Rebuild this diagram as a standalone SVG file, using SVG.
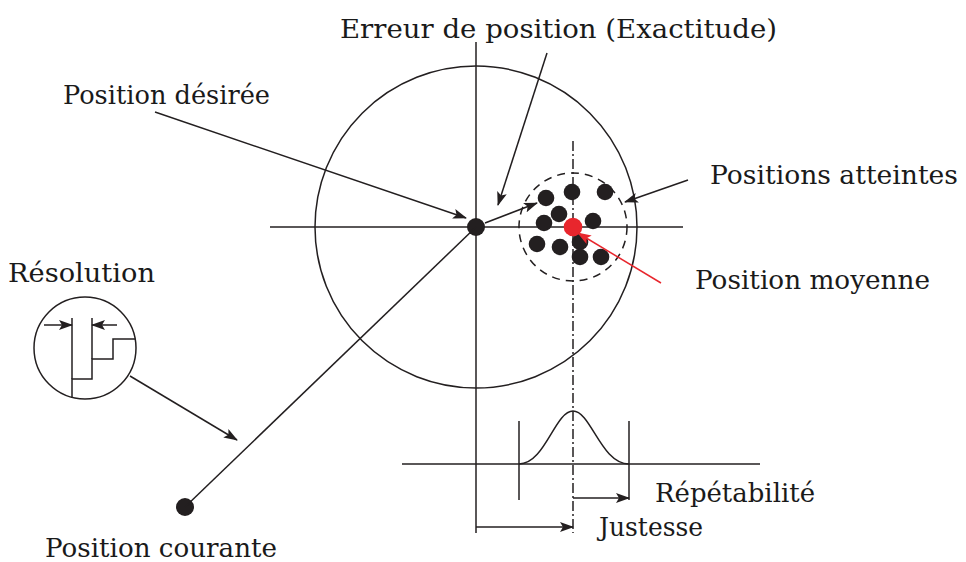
<svg xmlns="http://www.w3.org/2000/svg" width="966" height="562" viewBox="0 0 966 562">
<style>
.ln{stroke:#231f20;stroke-width:1.5;fill:none}
.dot{fill:#231f20}
.red{fill:#e8262d}
.t{font-family:"DejaVu Serif","Liberation Serif",serif;font-size:26px;fill:#1a1a1a}
</style>
<defs>
<marker id="ah" markerUnits="userSpaceOnUse" markerWidth="14" markerHeight="10" refX="13" refY="5" orient="auto">
<path d="M0,0 L14,5 L0,10 L3,5 Z" fill="#231f20"/>
</marker>
<marker id="ahr" markerUnits="userSpaceOnUse" markerWidth="14" markerHeight="10" refX="13" refY="5" orient="auto">
<path d="M0,0 L14,5 L0,10 L3,5 Z" fill="#e8262d"/>
</marker>
</defs>
<rect width="966" height="562" fill="#fff"/>

<g id="main-circle">
<circle class="ln" cx="476" cy="227" r="161"/>
<line class="ln" x1="476" y1="42" x2="476" y2="533"/>
<line class="ln" x1="270" y1="227" x2="683" y2="227"/>
</g>

<g id="cluster">
<circle class="ln" cx="573" cy="227" r="54" stroke-dasharray="8 6"/>
<line class="ln" x1="573" y1="141" x2="573" y2="533" stroke-dasharray="10 3 2 3" stroke-width="1.3"/>
<circle class="dot" cx="546" cy="198" r="8.3"/>
<circle class="dot" cx="572" cy="192" r="8.3"/>
<circle class="dot" cx="605" cy="192" r="8.3"/>
<circle class="dot" cx="559" cy="214" r="8.3"/>
<circle class="dot" cx="544" cy="223" r="8.3"/>
<circle class="dot" cx="593" cy="221" r="8.3"/>
<circle class="dot" cx="537" cy="244" r="8.3"/>
<circle class="dot" cx="560" cy="247" r="8.3"/>
<circle class="dot" cx="580" cy="242" r="8.3"/>
<circle class="dot" cx="580" cy="257" r="8.3"/>
<circle class="dot" cx="601" cy="257" r="8.3"/>
</g>

<g id="position-desiree-dot">
<circle class="dot" cx="476" cy="227" r="9"/>
</g>
<g id="position-moyenne-dot">
<circle class="red" cx="573" cy="227" r="9.3"/>
</g>
<g id="position-courante-dot">
<circle class="dot" cx="185" cy="507" r="9"/>
</g>

<g id="resolution">
<circle class="ln" cx="85" cy="348" r="51"/>
<line class="ln" x1="44" y1="325" x2="72" y2="325" marker-end="url(#ah)"/>
<line class="ln" x1="117" y1="325" x2="92" y2="325" marker-end="url(#ah)"/>
<line class="ln" x1="72" y1="318" x2="72" y2="379"/>
<line class="ln" x1="92" y1="318" x2="92" y2="359"/>
<polyline class="ln" points="72,398 72,379 92,379 92,359 113,359 113,339 135,339"/>
</g>

<g id="distribution">
<line class="ln" x1="402" y1="464" x2="760" y2="464"/>
<line class="ln" x1="519" y1="421" x2="519" y2="500"/>
<line class="ln" x1="629" y1="421" x2="629" y2="500"/>
<path class="ln" d="M519,464 C545,464 555,411 573,411 C591,411 601,464 629,464"/>
</g>

<g id="connectors">
<line class="ln" x1="155" y1="112" x2="466" y2="218" marker-end="url(#ah)"/>
<line class="ln" x1="547" y1="53" x2="498" y2="205" marker-end="url(#ah)"/>
<line class="ln" x1="485" y1="223" x2="537" y2="203" marker-end="url(#ah)"/>
<line class="ln" x1="688" y1="180" x2="625" y2="202" marker-end="url(#ah)"/>
<line x1="661" y1="283" x2="578" y2="233" stroke="#e8262d" stroke-width="1.5" marker-end="url(#ahr)"/>
<line class="ln" x1="476" y1="227" x2="185" y2="507"/>
<line class="ln" x1="130" y1="376" x2="237" y2="440" marker-end="url(#ah)"/>
<line class="ln" x1="573" y1="498" x2="629" y2="498" marker-end="url(#ah)"/>
<line class="ln" x1="476" y1="527" x2="573" y2="527" marker-end="url(#ah)"/>
</g>

<g id="labels">
<text class="t" x="340" y="38" textLength="437" lengthAdjust="spacingAndGlyphs">Erreur de position (Exactitude)</text>
<text class="t" x="63" y="104" textLength="207" lengthAdjust="spacingAndGlyphs">Position désirée</text>
<text class="t" x="710" y="184" textLength="248" lengthAdjust="spacingAndGlyphs">Positions atteintes</text>
<text class="t" x="8" y="282" textLength="147" lengthAdjust="spacingAndGlyphs">Résolution</text>
<text class="t" x="695" y="289" textLength="235" lengthAdjust="spacingAndGlyphs">Position moyenne</text>
<text class="t" x="655" y="502" textLength="160" lengthAdjust="spacingAndGlyphs">Répétabilité</text>
<text class="t" x="599" y="536" textLength="104" lengthAdjust="spacingAndGlyphs">Justesse</text>
<text class="t" x="45" y="557" textLength="232" lengthAdjust="spacingAndGlyphs">Position courante</text>
</g>
</svg>
